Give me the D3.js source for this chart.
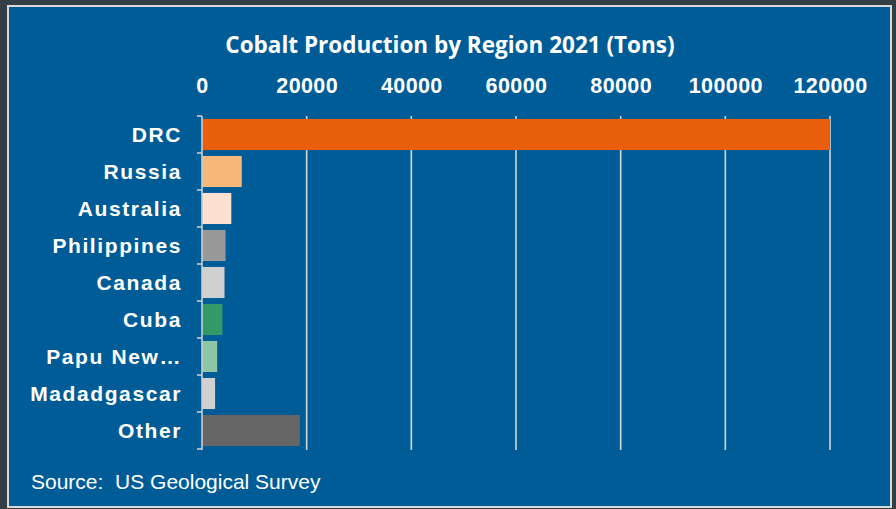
<!DOCTYPE html>
<html>
<head>
<meta charset="utf-8">
<script src="https://cdn.jsdelivr.net/npm/d3@7/dist/d3.min.js"></script>
<style>
  html, body { margin: 0; padding: 0; background: #333e47; }
  svg { display: block; }
</style>
</head>
<body>
<svg id="chart" width="896" height="509"></svg>
<script>
// Cobalt production by region, 2021 (tons)
const regions = ["DRC", "Russia", "Australia", "Philippines", "Canada", "Cuba", "Papu New…", "Madadgascar", "Other"];
const production = [120000, 7600, 5600, 4500, 4300, 3900, 2900, 2500, 18700];
const barColors = ["#e95f0e", "#f5b878", "#fde0cf", "#999999", "#d0d0d0", "#339966", "#8fc4a4", "#d0d0d0", "#666666"];
const tickValues = [0, 20000, 40000, 60000, 80000, 100000, 120000];

const svg = d3.select("#chart");
const W = 896, H = 509;

// panel
svg.append("rect").attr("x", 0).attr("y", 0).attr("width", W).attr("height", H).attr("fill", "#333e47");
svg.append("rect")
  .attr("x", 8).attr("y", 6).attr("width", 883).attr("height", 501)
  .attr("fill", "#005c97").attr("stroke", "#d9d9d9").attr("stroke-width", 2);

const plot = { left: 202, right: 830, top: 116, bottom: 449 };

const x = d3.scaleLinear().domain([0, 120000]).range([plot.left, plot.right]);
const y = d3.scaleBand().domain(regions).range([plot.top, plot.bottom]).paddingInner(0.16).paddingOuter(0.08);

// title
svg.append("text")
  .attr("x", 450).attr("y", 53)
  .attr("text-anchor", "middle")
  .attr("font-family", "'Open Sans', sans-serif")
  .attr("font-weight", 700)
  .attr("font-size", 22.5)
  .attr("fill", "#ffffff")
  .text("Cobalt Production by Region 2021 (Tons)");

// vertical gridlines
svg.append("g").selectAll("line")
  .data(tickValues.filter(d => d > 0))
  .join("line")
  .attr("x1", d => x(d)).attr("x2", d => x(d))
  .attr("y1", plot.top).attr("y2", plot.bottom + 1)
  .attr("stroke", "#d3d6da").attr("stroke-width", 1.6);

// top value axis
const xAxis = svg.append("g")
  .attr("transform", `translate(0,${plot.top})`)
  .call(d3.axisTop(x).tickValues(tickValues).tickFormat(d3.format("d")).tickSize(0).tickPadding(23));
xAxis.select(".domain").remove();
xAxis.selectAll("text")
  .attr("fill", "#ffffff")
  .attr("font-family", "'Liberation Sans', Arial, sans-serif")
  .attr("font-weight", 700)
  .attr("font-size", 21.5)
  .attr("letter-spacing", 0.4);

// bars
svg.append("g").selectAll("rect")
  .data(regions)
  .join("rect")
  .attr("x", x(0))
  .attr("y", d => y(d))
  .attr("width", (d, i) => x(production[i]) - x(0))
  .attr("height", y.bandwidth())
  .attr("fill", (d, i) => barColors[i]);

// category axis with bracket ticks at band boundaries
const yAxisG = svg.append("g");
yAxisG.append("line")
  .attr("x1", plot.left).attr("x2", plot.left)
  .attr("y1", plot.top).attr("y2", plot.bottom + 1)
  .attr("stroke", "#c9cdd2").attr("stroke-width", 1.6);
const boundaries = d3.range(regions.length + 1).map(i => plot.top + i * y.step());
yAxisG.selectAll("line.tick")
  .data(boundaries)
  .join("line")
  .attr("class", "tick")
  .attr("x1", plot.left - 5).attr("x2", plot.left)
  .attr("y1", d => d).attr("y2", d => d)
  .attr("stroke", "#c9cdd2").attr("stroke-width", 1.6);

yAxisG.selectAll("text")
  .data(regions)
  .join("text")
  .attr("x", 182)
  .attr("y", d => y(d) + y.bandwidth() / 2)
  .attr("dy", "0.36em")
  .attr("text-anchor", "end")
  .attr("fill", "#ffffff")
  .attr("font-family", "'Liberation Sans', Arial, sans-serif")
  .attr("font-weight", 700)
  .attr("font-size", 21)
  .attr("letter-spacing", 1.6)
  .text(d => d);

// source note
svg.append("text")
  .attr("x", 31).attr("y", 489)
  .attr("fill", "#ffffff")
  .attr("font-family", "'Liberation Sans', Arial, sans-serif")
  .attr("font-size", 21)
  .attr("xml:space", "preserve")
  .style("white-space", "pre")
  .text("Source:  US Geological Survey");
</script>
</body>
</html>
